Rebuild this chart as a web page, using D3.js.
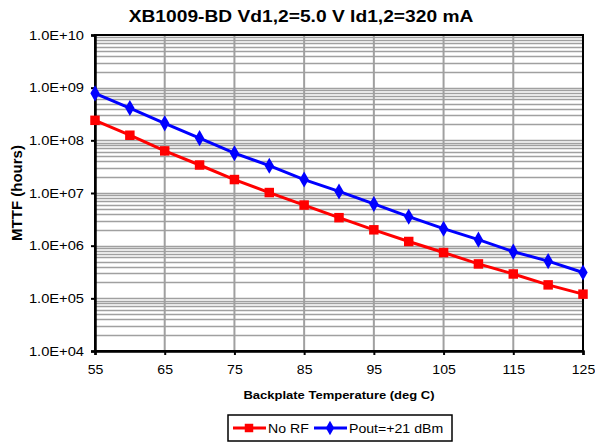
<!DOCTYPE html>
<html>
<head>
<meta charset="utf-8">
<script src="https://cdn.jsdelivr.net/npm/d3@7"></script>
<style>
  body { margin: 0; background: #fff; }
  text { font-family: "Liberation Sans", Arial, sans-serif; }
</style>
</head>
<body>
<div id="chart"></div>
<script>
// data
const temps = [55, 60, 65, 70, 75, 80, 85, 90, 95, 100, 105, 110, 115, 120, 125]
const noRF = [2.4e8, 1.25e8, 6.3e7, 3.4e7, 1.8e7, 1.02e7, 5.9e6, 3.4e6, 2.0e6, 1.2e6, 7.4e5, 4.5e5, 2.9e5, 1.8e5, 1.2e5]
const pout21 = [7.8e8, 4.1e8, 2.1e8, 1.1e8, 5.7e7, 3.3e7, 1.8e7, 1.07e7, 6.2e6, 3.55e6, 2.1e6, 1.3e6, 7.7e5, 5.1e5, 3.1e5]
const xTicks = [55, 65, 75, 85, 95, 105, 115, 125]
const yTicks = [1e4, 1e5, 1e6, 1e7, 1e8, 1e9, 1e10]
const seriesNames = ["No RF", "Pout=+21 dBm"]

const W = 595, H = 442
const SX = 1.13 // text in the reference is a bit wider than it is tall
let margin = {top: 35, right: 12, bottom: 91, left: 95},
    width = W - margin.left - margin.right,
    height = H - margin.top - margin.bottom;

let svg = d3.select("#chart").append("svg")
    .attr("width", W)
    .attr("height", H)

let g = svg.append("g")
    .attr("transform", "translate(" + margin.left + "," + margin.top + ")")

let x = d3.scaleLinear().domain([55, 125]).range([0, width])
let y = d3.scaleLog().domain([1e4, 1e10]).range([height, 0])

// horizontal grid, 1..9 per decade
let hLines = []
for (let e = 4; e < 10; e++) {
    for (let m = 1; m <= 9; m++) hLines.push(m * Math.pow(10, e))
}
g.append("g").selectAll("line")
    .data(hLines)
    .join("line")
    .attr("x1", 0).attr("x2", width)
    .attr("y1", d => Math.round(y(d)) + 0.5)
    .attr("y2", d => Math.round(y(d)) + 0.5)
    .attr("stroke", "#a0a0a0")
    .attr("stroke-width", 1.3)

// vertical grid
g.append("g").selectAll("line")
    .data(xTicks.slice(1, -1))
    .join("line")
    .attr("x1", d => x(d)).attr("x2", d => x(d))
    .attr("y1", 0).attr("y2", height)
    .attr("stroke", "#a0a0a0")
    .attr("stroke-width", 2)

// frame
g.append("rect")
    .attr("width", width).attr("height", height)
    .attr("fill", "none")
    .attr("stroke", "#000")
    .attr("stroke-width", 2)

// axes
let yAxis = g.append("g")
    .call(d3.axisLeft(y).tickValues(yTicks).tickSize(4).tickPadding(6)
        .tickFormat(d => d3.format(".1e")(d).replace("e+", "E+").replace(/E\+(\d)$/, "E+0$1")))
yAxis.select(".domain").attr("stroke-width", 2.5)
yAxis.selectAll(".tick line").attr("stroke-width", 2)
yAxis.selectAll("text")
    .attr("font-size", 13).attr("fill", "#000")
    .attr("x", null)
    .attr("transform", "translate(-11,0) scale(" + SX + ",1)")

let xAxis = g.append("g")
    .attr("transform", "translate(0," + height + ")")
    .call(d3.axisBottom(x).tickValues(xTicks).tickSize(4).tickPadding(10))
xAxis.select(".domain").attr("stroke-width", 2.5)
xAxis.selectAll(".tick line").attr("stroke-width", 2)
xAxis.selectAll("text").attr("font-size", 12.5).attr("fill", "#000")
    .attr("transform", "scale(" + SX + ",1)")

// series
let line = d3.line().x(d => x(d[0])).y(d => y(d[1]))
let series = [
    {name: seriesNames[0], values: noRF, color: "#ff0000", shape: d3.symbolSquare, size: 90},
    {name: seriesNames[1], values: pout21, color: "#0000ff", shape: d3.symbolDiamond, size: 75}
]
series.forEach(s => {
    let pts = temps.map((t, i) => [t, s.values[i]])
    g.append("path")
        .datum(pts)
        .attr("d", line)
        .attr("fill", "none")
        .attr("stroke", s.color)
        .attr("stroke-width", 3)
    g.append("g").selectAll("path")
        .data(pts)
        .join("path")
        .attr("transform", d => "translate(" + x(d[0]) + "," + y(d[1]) + ")")
        .attr("d", d3.symbol().type(s.shape).size(s.size))
        .attr("fill", s.color)
})

// title and labels
svg.append("text")
    .attr("transform", "translate(301,22) scale(" + SX + ",1)")
    .attr("text-anchor", "middle")
    .attr("font-size", 17).attr("font-weight", "bold")
    .text("XB1009-BD Vd1,2=5.0 V Id1,2=320 mA")

svg.append("text")
    .attr("transform", "translate(22," + (margin.top + height / 2) + ") rotate(-90)")
    .attr("text-anchor", "middle")
    .attr("font-size", 15).attr("font-weight", "bold")
    .text("MTTF (hours)")

svg.append("text")
    .attr("transform", "translate(" + (margin.left + width / 2) + ",399) scale(" + SX + ",1)")
    .attr("text-anchor", "middle")
    .attr("font-size", 11.5).attr("font-weight", "bold")
    .text("Backplate Temperature (deg C)")

// legend
let leg = svg.append("g").attr("transform", "translate(228,415)")
leg.append("rect")
    .attr("width", 224).attr("height", 26)
    .attr("fill", "#fff").attr("stroke", "#000").attr("stroke-width", 1.5)
let legX = [5, 86]
series.forEach((s, i) => {
    let lg = leg.append("g").attr("transform", "translate(" + legX[i] + ",0)")
    lg.append("line")
        .attr("x1", 0).attr("x2", 33).attr("y1", 13).attr("y2", 13)
        .attr("stroke", s.color).attr("stroke-width", 3)
    lg.append("path")
        .attr("transform", "translate(16,13)")
        .attr("d", d3.symbol().type(s.shape).size(s.size * 0.8))
        .attr("fill", s.color)
    lg.append("text")
        .attr("transform", "translate(35,18) scale(" + SX + ",1)")
        .attr("font-size", 12.5)
        .text(s.name)
})
</script>
</body>
</html>
